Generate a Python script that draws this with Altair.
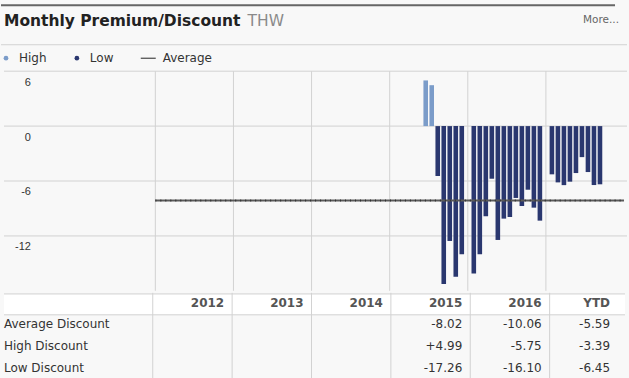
import altair as alt
import pandas as pd

# ---------------- data ----------------
years = ["2012", "2013", "2014", "2015", "2016", "YTD"]

months_2015 = [6, 7, 8, 9, 10, 11, 12]
values_2015 = [4.99, 4.47, -5.45, -17.26, -12.55, -16.47, -14.0]

months_2016 = [1, 2, 3, 4, 5, 6, 7, 8, 9, 10, 11, 12]
values_2016 = [-16.10, -14.0, -9.85, -5.75, -12.44, -10.11, -9.93, -7.85, -8.73, -6.95, -8.91, -10.33]

months_ytd = [1, 2, 3, 4, 5, 6, 7, 8, 9]
values_ytd = [-5.27, -6.15, -6.45, -6.07, -5.13, -3.39, -5.02, -6.44, -6.36]

average_value = -8.12
y_ticks = [6, 0, -6, -12]

row_labels = ["Average Discount", "High Discount", "Low Discount"]
avg_discount = ["", "", "", "-8.02", "-10.06", "-5.59"]
high_discount = ["", "", "", "+4.99", "-5.75", "-3.39"]
low_discount = ["", "", "", "-17.26", "-16.10", "-6.45"]

# ---------------- layout ----------------
W = 629
HEAD_H = 70
PLOT_H = 220
TABLE_H = 88
LABEL_COL_PX = 152
SLOTS = 13  # month slots per year column
COL_PX = (W - LABEL_COL_PX) / len(years)
X0 = -LABEL_COL_PX / COL_PX * SLOTS
X1 = len(years) * SLOTS
TABLE_RIGHT_PX = 618


def px_to_slot(px):
    return px / W * (X1 - X0) + X0


xs = alt.Scale(domain=[X0, X1], nice=False, zero=False)
ys = alt.Scale(domain=[-18, 6], nice=False, zero=False)

HIGH_C = "#7b9cc9"
LOW_C = "#2a376f"
GRID_C = "#d2d2d2"
FONT = "DejaVu Sans"

# ---------------- bars ----------------
recs = []
for yi, ms, vs in [(3, months_2015, values_2015), (4, months_2016, values_2016), (5, months_ytd, values_ytd)]:
    for m, v in zip(ms, vs):
        recs.append({"slot": yi * SLOTS + m, "value": v, "kind": "High" if v > 0 else "Low"})
bars_df = pd.DataFrame(recs)

bars = alt.Chart(bars_df).mark_bar(size=4.6).encode(
    x=alt.X("slot:Q", scale=xs, axis=None),
    y=alt.Y("value:Q", scale=ys, axis=None),
    y2=alt.datum(0),
    color=alt.Color("kind:N", scale=alt.Scale(domain=["High", "Low"], range=[HIGH_C, LOW_C]), legend=None),
)

ticks_df = pd.DataFrame({"v": y_ticks, "label": [str(t) for t in y_ticks]})
hgrid = alt.Chart(ticks_df).mark_rule(color=GRID_C, strokeWidth=1).encode(
    y=alt.Y("v:Q", scale=ys, axis=None), x=alt.value(3), x2=alt.value(627)
)
ylabels = alt.Chart(ticks_df).mark_text(
    align="right", baseline="alphabetic", dy=14.5, font="Liberation Sans", fontSize=11, color="#333333"
).encode(y=alt.Y("v:Q", scale=ys, axis=None), x=alt.value(30), text="label:N")

cols_df = pd.DataFrame({"start": [i * SLOTS for i in range(len(years))]})
vgrid = alt.Chart(cols_df).mark_rule(color=GRID_C, strokeWidth=1).encode(
    x=alt.X("start:Q", scale=xs, axis=None), y=alt.value(0), y2=alt.value(PLOT_H)
)

avg_df = pd.DataFrame({"a": [0], "b": [X1], "v": [average_value]})
avg_base = alt.Chart(avg_df).mark_rule(color="#5a5a5a", strokeWidth=2).encode(
    x=alt.X("a:Q", scale=xs, axis=None), x2="b:Q", y=alt.Y("v:Q", scale=ys, axis=None)
)
avg_dash = alt.Chart(avg_df).mark_rule(color="#333333", strokeWidth=2, strokeDash=[1, 4]).encode(
    x=alt.X("a:Q", scale=xs, axis=None), x2="b:Q", y=alt.Y("v:Q", scale=ys, axis=None)
)

plot = alt.layer(hgrid, vgrid, ylabels, bars, avg_base, avg_dash).properties(width=W, height=PLOT_H)

# ---------------- header (title + legend) ----------------
one = pd.DataFrame({"d": [0]})
top_bar = alt.Chart(one).mark_rule(color="#666666", strokeWidth=2).encode(
    x=alt.value(0), x2=alt.value(615), y=alt.value(5)
)
sep_line = alt.Chart(one).mark_rule(color=GRID_C, strokeWidth=1).encode(
    x=alt.value(0), x2=alt.value(627), y=alt.value(44.5)
)
title_main = alt.Chart(pd.DataFrame({"t": ["Monthly Premium/Discount"]})).mark_text(
    align="left", baseline="alphabetic", font=FONT, fontSize=15.5, fontWeight="bold", color="#222222"
).encode(x=alt.value(3), y=alt.value(26), text="t:N")
title_sub = alt.Chart(pd.DataFrame({"t": ["THW"]})).mark_text(
    align="left", baseline="alphabetic", font=FONT, fontSize=15.5, color="#8a8a8a"
).encode(x=alt.value(247), y=alt.value(26), text="t:N")
more = alt.Chart(pd.DataFrame({"t": ["More..."]})).mark_text(
    align="right", baseline="alphabetic", font=FONT, fontSize=10.5, color="#666666"
).encode(x=alt.value(619), y=alt.value(23), text="t:N")

leg_dots_df = pd.DataFrame({"kind": ["High", "Low"], "px": [5, 76]})
leg_dots = alt.Chart(leg_dots_df).mark_circle(size=22, opacity=1).encode(
    x=alt.X("px:Q", scale=alt.Scale(domain=[0, W], nice=False), axis=None),
    y=alt.value(58),
    color=alt.Color("kind:N", scale=alt.Scale(domain=["High", "Low"], range=[HIGH_C, LOW_C]), legend=None),
)
leg_text_df = pd.DataFrame({"t": ["High", "Low", "Average"], "px": [18, 89, 162]})
leg_text = alt.Chart(leg_text_df).mark_text(
    align="left", baseline="alphabetic", font=FONT, fontSize=12, color="#333333"
).encode(x=alt.X("px:Q", scale=alt.Scale(domain=[0, W], nice=False), axis=None), y=alt.value(62), text="t:N")
leg_line = alt.Chart(one).mark_rule(color="#222222", strokeWidth=1).encode(
    x=alt.value(140), x2=alt.value(155), y=alt.value(58)
)

header = alt.layer(top_bar, sep_line, title_main, title_sub, more, leg_dots, leg_text, leg_line).properties(
    width=W, height=HEAD_H
)

# ---------------- table ----------------
tys = alt.Scale(domain=[-0.5, 3.5], nice=False, zero=False, reverse=True)
text_end = []
for i in range(len(years)):
    end = (i + 1) * SLOTS
    if i == len(years) - 1:
        end = px_to_slot(TABLE_RIGHT_PX)
    text_end.append(end)

head_df = pd.DataFrame({"t": years, "x": text_end, "r": [0] * len(years)})
cell_recs = []
for r, vals in enumerate([avg_discount, high_discount, low_discount], start=1):
    for i, v in enumerate(vals):
        if v:
            cell_recs.append({"t": v, "x": text_end[i], "r": r})
cells_df = pd.DataFrame(cell_recs)
labels_df = pd.DataFrame({"t": row_labels, "r": [1, 2, 3]})

head_bg = alt.Chart(pd.DataFrame({"a": [-0.45], "b": [0.5]})).mark_rect(color="#ffffff").encode(
    y=alt.Y("a:Q", scale=tys, axis=None), y2="b:Q", x=alt.value(3), x2=alt.value(625)
)
head_lines = alt.Chart(pd.DataFrame({"r": [-0.45, 0.5]})).mark_rule(color=GRID_C, strokeWidth=1).encode(
    y=alt.Y("r:Q", scale=tys, axis=None), x=alt.value(3), x2=alt.value(625)
)
tvgrid = alt.Chart(cols_df).mark_rule(color=GRID_C, strokeWidth=1).encode(
    x=alt.X("start:Q", scale=xs, axis=None), y=alt.value(0), y2=alt.value(TABLE_H)
)
head_text = alt.Chart(head_df).mark_text(
    align="right", baseline="middle", dx=-8, dy=-0.5, font=FONT, fontSize=12, fontWeight="bold", color="#555555"
).encode(x=alt.X("x:Q", scale=xs, axis=None), y=alt.Y("r:Q", scale=tys, axis=None), text="t:N")
cell_text = alt.Chart(cells_df).mark_text(
    align="right", baseline="middle", dx=-8, dy=-1.5, font=FONT, fontSize=12, color="#333333"
).encode(x=alt.X("x:Q", scale=xs, axis=None), y=alt.Y("r:Q", scale=tys, axis=None), text="t:N")
row_text = alt.Chart(labels_df).mark_text(
    align="left", baseline="middle", dy=-1.5, font=FONT, fontSize=12, color="#333333"
).encode(x=alt.value(3), y=alt.Y("r:Q", scale=tys, axis=None), text="t:N")

table = alt.layer(head_bg, head_lines, tvgrid, head_text, cell_text, row_text).properties(width=W, height=TABLE_H)

chart = (
    alt.vconcat(header, plot, table, spacing=0)
    .resolve_scale(x="independent", y="independent", color="independent")
    .properties(padding=0, background="#f8f8f8")
    .configure_view(stroke=None)
)

chart.save("out.html", embed_options={"renderer": "svg", "actions": False})
